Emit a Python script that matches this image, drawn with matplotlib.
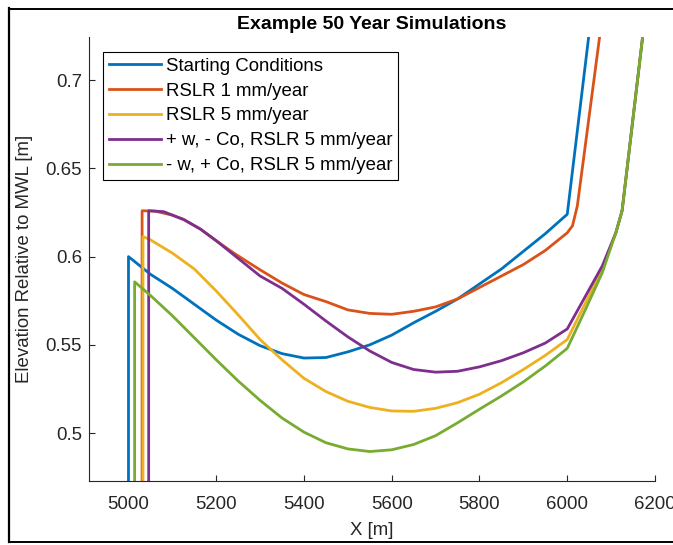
import matplotlib
matplotlib.use("Agg")
from matplotlib import pyplot as plt
from matplotlib.lines import Line2D

plt.rcParams['font.family'] = ['Liberation Sans', 'DejaVu Sans']

# values
labels = ["Starting Conditions", "RSLR 1 mm/year", "RSLR 5 mm/year",
          "+ w, - Co, RSLR 5 mm/year", "- w, + Co, RSLR 5 mm/year"]
colors = ["#0072BD", "#D95319", "#EDB120", "#7E2F8E", "#77AC30"]

start_x = [5000, 5000, 5025, 5050, 5100, 5150, 5200, 5250, 5300, 5350, 5400, 5450, 5500,
           5550, 5600, 5650, 5700, 5750, 5800, 5850, 5900, 5950, 6000, 6050, 6060]
start_y = [0.40, 0.600, 0.595, 0.590, 0.582, 0.573, 0.564, 0.556, 0.5495, 0.545, 0.5425, 0.5428, 0.546,
           0.550, 0.5555, 0.5625, 0.569, 0.576, 0.5845, 0.593, 0.603, 0.613, 0.624, 0.727, 0.747]

rslr1_x = [5031, 5031, 5060, 5100, 5126, 5164, 5200, 5240, 5300, 5350, 5400, 5450, 5500,
           5550, 5600, 5650, 5700, 5750, 5800, 5850, 5900, 5950, 6000, 6012, 6023, 6074, 6085]
rslr1_y = [0.40, 0.626, 0.6258, 0.6235, 0.621, 0.6156, 0.609, 0.602, 0.5925, 0.585, 0.5785, 0.5745, 0.5698,
           0.5678, 0.5673, 0.569, 0.5715, 0.576, 0.5825, 0.589, 0.5955, 0.6035, 0.6135, 0.6175, 0.6288, 0.725, 0.745]

rslr5_x = [5033, 5033, 5050, 5100, 5150, 5200, 5250, 5300, 5350, 5400, 5450, 5500, 5550, 5600,
           5650, 5700, 5750, 5800, 5850, 5900, 5950, 6000, 6042, 6080, 6111, 6125, 6172, 6180]
rslr5_y = [0.40, 0.6114, 0.6095, 0.602, 0.593, 0.5805, 0.567, 0.553, 0.5415, 0.531, 0.5235, 0.518, 0.5145, 0.5125,
           0.5123, 0.514, 0.5172, 0.522, 0.5285, 0.536, 0.544, 0.553, 0.574, 0.593, 0.6137, 0.626, 0.725, 0.745]

pw_x = [5046, 5046, 5080, 5126, 5164, 5200, 5250, 5300, 5350, 5400, 5450, 5500, 5550, 5600,
        5650, 5700, 5750, 5800, 5850, 5900, 5950, 6000, 6042, 6080, 6111, 6125, 6172, 6180]
pw_y = [0.40, 0.626, 0.6255, 0.621, 0.6156, 0.609, 0.599, 0.589, 0.582, 0.573, 0.5635, 0.5545, 0.5465, 0.540,
        0.536, 0.5345, 0.535, 0.5375, 0.541, 0.5455, 0.551, 0.559, 0.5778, 0.5948, 0.6137, 0.626, 0.725, 0.745]

mw_x = [5014, 5014, 5050, 5100, 5150, 5200, 5250, 5300, 5350, 5400, 5450, 5500, 5550, 5600,
        5650, 5700, 5750, 5800, 5850, 5900, 5950, 6000, 6042, 6080, 6111, 6125, 6172, 6180]
mw_y = [0.40, 0.5857, 0.578, 0.5665, 0.554, 0.5415, 0.5295, 0.5185, 0.5085, 0.5005, 0.4945, 0.491, 0.4895, 0.4905,
        0.4935, 0.4985, 0.5058, 0.5135, 0.521, 0.529, 0.538, 0.548, 0.5703, 0.591, 0.6137, 0.626, 0.725, 0.745]

series = [(start_x, start_y), (rslr1_x, rslr1_y), (rslr5_x, rslr5_y), (pw_x, pw_y), (mw_x, mw_y)]

fig = plt.figure(figsize=(6.73, 5.45), dpi=100)
ax = fig.add_axes([89/673, 1 - 481/545, (655-89)/673, (481-37)/545])

for (xs, ys), c, lab in zip(series, colors, labels):
    ax.plot(xs, ys, color=c, lw=2, label=lab, solid_joinstyle="round")

ax.set_xlim(4910, 6200)
ax.set_ylim(0.4728, 0.7245)
ax.set_xticks(range(5000, 6201, 200))
ax.set_yticks([0.5, 0.55, 0.6, 0.65, 0.7])
ax.set_yticklabels(["0.5", "0.55", "0.6", "0.65", "0.7"])

axcol = (0.15, 0.15, 0.15)
for s in ["top", "right"]:
    ax.spines[s].set_visible(False)
for s in ["left", "bottom"]:
    ax.spines[s].set_color(axcol)
    ax.spines[s].set_linewidth(0.8)
ax.tick_params(axis="both", direction="in", length=4, width=0.8, colors=axcol, labelsize=13.4)
ax.tick_params(axis="x", pad=11)
ax.tick_params(axis="y", pad=5)

ax.set_xlabel("X [m]", fontsize=13.4, color=axcol, labelpad=6)
ax.set_ylabel("Elevation Relative to MWL [m]", fontsize=13.4, color=axcol, labelpad=9)
ax.set_title("Example 50 Year Simulations", fontsize=14, fontweight="bold", pad=6)

leg = ax.legend(loc="upper left", bbox_to_anchor=(0.0247, 0.966), borderaxespad=0,
                fontsize=13.4, handlelength=2.8, handletextpad=0.3, labelspacing=0.42,
                borderpad=0.3, fancybox=False, framealpha=1)
leg.get_frame().set_edgecolor("black")
leg.get_frame().set_linewidth(0.8)

# screenshot frame around the figure
fig.add_artist(Line2D([9/673, 9/673], [1 - 8/545, 1 - 542/545], color="black", lw=1.6))
fig.add_artist(Line2D([9/673, 1], [1 - 8.5/545, 1 - 8.5/545], color="black", lw=1.4))
fig.add_artist(Line2D([9/673, 1], [1 - 542/545, 1 - 542/545], color="black", lw=1.4))

plt.savefig("out.png", dpi=100)
